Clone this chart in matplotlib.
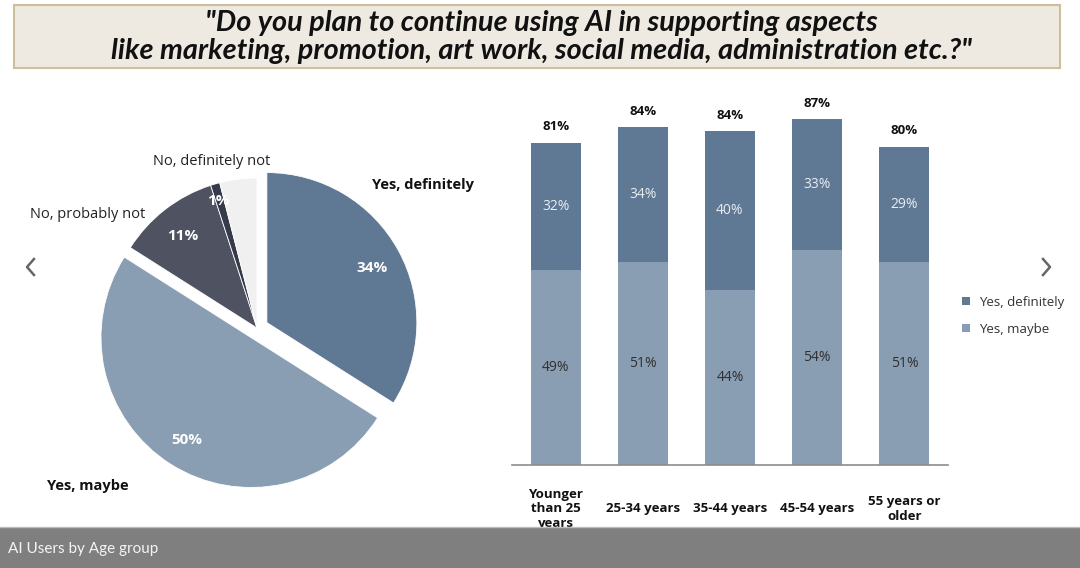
import matplotlib.pyplot as plt
from matplotlib.patches import Rectangle
from matplotlib.lines import Line2D

pie_names = ['Yes, definitely', 'Yes, maybe', 'No, probably not', 'No, definitely not', "Don't know"]
pie_values = [34, 50, 11, 1, 4]

ages = ['Younger\nthan 25\nyears', '25-34 years', '35-44 years', '45-54 years', '55 years or\nolder']
maybe = [49, 51, 44, 54, 51]
definitely = [32, 34, 40, 33, 29]
totals = [81, 84, 84, 87, 80]

dark = '#5F7894'
light = '#899EB2'
txt = '#303030'

plt.rcParams['font.family'] = ['Open Sans', 'DejaVu Sans']

W, H = 1080, 568
fig = plt.figure(figsize=(W / 100, H / 100), dpi=100)
fig.patch.set_facecolor('white')

# title box
fig.add_artist(Rectangle((14 / W, 1 - 68 / H), 1046 / W, 63 / H, transform=fig.transFigure,
                         facecolor='#EEEAE1', edgecolor='#CDBE9E', linewidth=1.5))
fig.text(541 / W, 1 - 37 / H,
         '"Do you plan to continue using AI in supporting aspects\n'
         'like marketing, promotion, art work, social media, administration etc.?"',
         ha='center', va='center', fontsize=20.8, fontweight='bold', fontstyle='italic',
         family=['Lato', 'DejaVu Sans'], linespacing=1.13, color='#111111')

# pie
axp = fig.add_axes([77 / W, 1 - 508 / H, 360 / W, 360 / H])
wedges, _ = axp.pie(pie_values, startangle=90, counterclock=False, radius=1,
                    explode=[0.075, 0.075, 0, 0, 0],
                    colors=[dark, light, '#4F5361', '#363B4B', '#F0F0F0'],
                    wedgeprops=dict(edgecolor='white', linewidth=0.6))
axp.set_xlim(-1.2, 1.2)
axp.set_ylim(-1.2, 1.2)
axp.set_aspect('equal')
axp.axis('off')

for s, x, y in [('34%', 0.767, 0.40), ('50%', -0.467, -0.747), ('11%', -0.493, 0.613), ('1%', -0.26, 0.847)]:
    axp.text(x, y, s, ha='center', va='center', color='white', fontsize=11, fontweight='bold')
axp.text(0.767, 0.953, pie_names[0], ha='left', va='center', fontsize=10.5, fontweight='bold', color='#111111')
axp.text(-1.40, -1.053, pie_names[1], ha='left', va='center', fontsize=10.5, fontweight='bold', color='#111111')
axp.text(-1.513, 0.76, pie_names[2], ha='left', va='center', fontsize=10.5, color='#222222')
axp.text(-0.693, 1.113, pie_names[3], ha='left', va='center', fontsize=10.5, color='#222222')

# stacked bars
axb = fig.add_axes([512 / W, 1 - 465 / H, 436 / W, 397.7 / H])
x = range(len(ages))
b1 = axb.bar(x, maybe, width=0.573, color=light, label='Yes, maybe')
b2 = axb.bar(x, definitely, bottom=maybe, width=0.573, color=dark, label='Yes, definitely')
axb.set_xlim(-0.5, 4.5)
axb.set_ylim(0, 100)
for s in ['top', 'right', 'left']:
    axb.spines[s].set_visible(False)
axb.spines['bottom'].set_color('#8C8C8C')
axb.spines['bottom'].set_linewidth(1.2)
axb.set_yticks([])
axb.set_xticks(list(x))
axb.set_xticklabels(ages, fontsize=9.5, fontweight='bold', va='center', linespacing=1.15, color='#111111')
axb.tick_params(axis='x', length=0, pad=31.5)

for i in x:
    axb.text(i, maybe[i] / 2, f'{maybe[i]}%', ha='center', va='center', fontsize=10, color=txt)
    axb.text(i, maybe[i] + definitely[i] / 2, f'{definitely[i]}%', ha='center', va='center',
             fontsize=10, color='#E9EDF2')
    axb.text(i, maybe[i] + definitely[i] + 4.0, f'{totals[i]}%', ha='center', va='center',
             fontsize=9.5, fontweight='bold', color='#111111')

fig.legend([b2, b1], ['Yes, definitely', 'Yes, maybe'], loc='upper left',
           bbox_to_anchor=(950 / W, 1 - 284 / H), frameon=False, fontsize=9.5,
           handlelength=0.6, handleheight=0.6, handletextpad=0.7, labelspacing=1.05,
           labelcolor='#333333')

# navigation arrows
for pts in ([(34, 259), (27, 267), (34, 275)], [(1043, 259), (1050, 267), (1043, 275)]):
    fig.add_artist(Line2D([p[0] / W for p in pts], [1 - p[1] / H for p in pts],
                          transform=fig.transFigure, color='#666666', linewidth=1.8))

# bottom caption bar
fig.add_artist(Rectangle((0, 0), 1, 41 / H, transform=fig.transFigure,
                         facecolor='#7F7F7F', edgecolor='none', zorder=10))
fig.add_artist(Line2D([0, 1], [41 / H, 41 / H], transform=fig.transFigure,
                      color='#BDBDBD', linewidth=1, zorder=11))
fig.text(8 / W, 19 / H, 'AI Users by Age group', ha='left', va='center', fontsize=11,
         family=['Lato', 'DejaVu Sans'], color='#F4F4F4', zorder=12)

fig.savefig('out.png', dpi=100)
